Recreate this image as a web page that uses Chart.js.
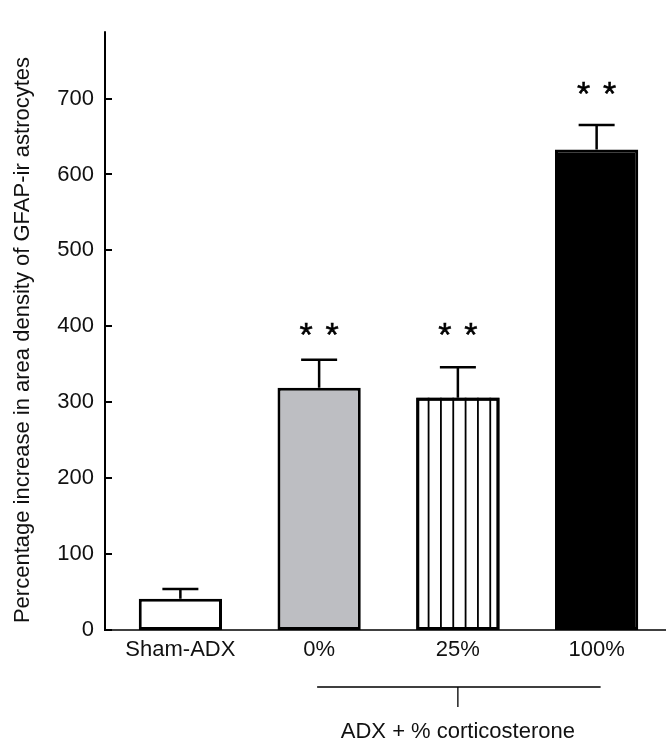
<!DOCTYPE html>
<html>
<head>
<meta charset="utf-8">
<script src="https://cdn.jsdelivr.net/npm/chart.js@4.4.0/dist/chart.umd.min.js"></script>
<style>
    html, body { margin: 0; padding: 0; background: #fff; }
    #gfapChart { display: block; }
</style>
</head>
<body>
<canvas id="gfapChart" width="666" height="742"></canvas>
<script>
// values
var categories = ['Sham-ADX', '0%', '25%', '100%'];
var meanValues = [41, 319, 306, 633];
var semValues = [13, 37, 40, 32];
var starCounts = [0, 2, 2, 2];
var starLevels = [null, 397, 397, 714];
var yTickValues = [0, 100, 200, 300, 400, 500, 600, 700];
var groupStart = 1, groupEnd = 3;
var groupLabel = 'ADX + % corticosterone';
var yTitle = 'Percentage increase in area density of GFAP-ir astrocytes';

(function () {
    'use strict';

    var fontFamily = '"Liberation Sans", Arial, sans-serif';
    var ink = '#111';

    var overlay = {
        id: 'overlay',
        afterDatasetsDraw: function (chart) {
            var ctx = chart.ctx;
            var yScale = chart.scales.y;
            var bars = chart.getDatasetMeta(0).data;
            ctx.save();

            // vertical stripes in the 25% bar
            var hb = bars[2];
            var left = hb.x - hb.width / 2;
            var step = hb.width / 6.75;
            ctx.strokeStyle = '#000';
            ctx.lineWidth = 1.8;
            ctx.beginPath();
            for (var k = 1; k <= 6; k++) {
                var sx = left + k * step;
                ctx.moveTo(sx, hb.y);
                ctx.lineTo(sx, hb.base);
            }
            ctx.stroke();

            // redraw the border of that bar over the stripes
            ctx.lineWidth = 3;
            ctx.strokeRect(left + 1.5, hb.y + 1.5, hb.width - 3, hb.base - hb.y - 3);

            // error bars (upper half only)
            ctx.lineWidth = 2.5;
            for (var i = 0; i < bars.length; i++) {
                var b = bars[i];
                var top = yScale.getPixelForValue(meanValues[i] + semValues[i]);
                ctx.beginPath();
                ctx.moveTo(b.x, b.y);
                ctx.lineTo(b.x, top);
                ctx.moveTo(b.x - 18, top);
                ctx.lineTo(b.x + 18, top);
                ctx.stroke();
            }

            // significance stars
            ctx.fillStyle = '#000';
            ctx.strokeStyle = '#000';
            ctx.lineWidth = 0.5;
            ctx.font = '34px ' + fontFamily;
            ctx.textAlign = 'center';
            ctx.textBaseline = 'alphabetic';
            var m = ctx.measureText('*');
            var shift = (m.actualBoundingBoxAscent - m.actualBoundingBoxDescent) / 2;
            for (var j = 0; j < bars.length; j++) {
                if (!starCounts[j]) continue;
                var cy = yScale.getPixelForValue(starLevels[j]);
                for (var s = 0; s < starCounts[j]; s++) {
                    var cx = bars[j].x + (s - (starCounts[j] - 1) / 2) * 26;
                    ctx.fillText('*', cx, cy + shift);
                    ctx.strokeText('*', cx, cy + shift);
                }
            }
            ctx.restore();
        },
        afterDraw: function (chart) {
            var ctx = chart.ctx;
            var area = chart.chartArea;
            var xScale = chart.scales.x;
            var yScale = chart.scales.y;
            var axisX = area.left - 6;
            ctx.save();
            ctx.strokeStyle = '#000';

            // y axis with inward ticks
            ctx.lineWidth = 2;
            ctx.beginPath();
            ctx.moveTo(axisX, area.top + 1);
            ctx.lineTo(axisX, area.bottom + 1);
            yTickValues.forEach(function (v) {
                var py = Math.round(yScale.getPixelForValue(v));
                ctx.moveTo(axisX, py);
                ctx.lineTo(axisX + 7, py);
            });
            ctx.stroke();

            // x baseline
            ctx.lineWidth = 1.5;
            ctx.beginPath();
            ctx.moveTo(axisX, area.bottom);
            ctx.lineTo(chart.width, area.bottom);
            ctx.stroke();

            // bracket under the corticosterone groups
            var x1 = xScale.getPixelForValue(groupStart) - 2;
            var x2 = xScale.getPixelForValue(groupEnd) + 4;
            var xm = (xScale.getPixelForValue(groupStart) + xScale.getPixelForValue(groupEnd)) / 2;
            var by = area.bottom + 57;
            ctx.lineWidth = 1.3;
            ctx.beginPath();
            ctx.moveTo(x1, by);
            ctx.lineTo(x2, by);
            ctx.moveTo(xm, by);
            ctx.lineTo(xm, by + 20);
            ctx.stroke();

            ctx.fillStyle = ink;
            ctx.font = '22px ' + fontFamily;
            ctx.textAlign = 'center';
            ctx.textBaseline = 'alphabetic';
            ctx.fillText(groupLabel, xm, by + 51);

            // y axis title
            ctx.translate(29, 340);
            ctx.rotate(-Math.PI / 2);
            ctx.fillText(yTitle, 0, 0);
            ctx.restore();
        }
    };

    var ctx = document.getElementById('gfapChart').getContext('2d');

    new Chart(ctx, {
        type: 'bar',
        data: {
            labels: categories,
            datasets: [{
                data: meanValues,
                backgroundColor: ['#ffffff', '#bdbec2', '#ffffff', '#000000'],
                borderColor: '#000',
                borderWidth: 3,
                borderSkipped: false,
                barPercentage: 0.6,
                categoryPercentage: 1.0
            }]
        },
        options: {
            responsive: false,
            animation: false,
            devicePixelRatio: 1,
            layout: {
                padding: { top: 15, right: 0, bottom: 72, left: 0 }
            },
            plugins: {
                legend: { display: false },
                tooltip: { enabled: false }
            },
            scales: {
                x: {
                    grid: { display: false, drawTicks: false },
                    border: { display: false },
                    ticks: {
                        color: ink,
                        padding: 7,
                        font: { family: fontFamily, size: 22 }
                    },
                    afterFit: function (scale) { scale.height = 40; }
                },
                y: {
                    min: 0,
                    max: 790,
                    grid: { display: false, drawTicks: false },
                    border: { display: false },
                    ticks: {
                        color: ink,
                        padding: 17,
                        font: { family: fontFamily, size: 22 }
                    },
                    afterBuildTicks: function (scale) {
                        scale.ticks = yTickValues.map(function (v) { return { value: v }; });
                    },
                    afterFit: function (scale) { scale.width = 111; }
                }
            }
        },
        plugins: [overlay]
    });
})();
</script>
</body>
</html>
